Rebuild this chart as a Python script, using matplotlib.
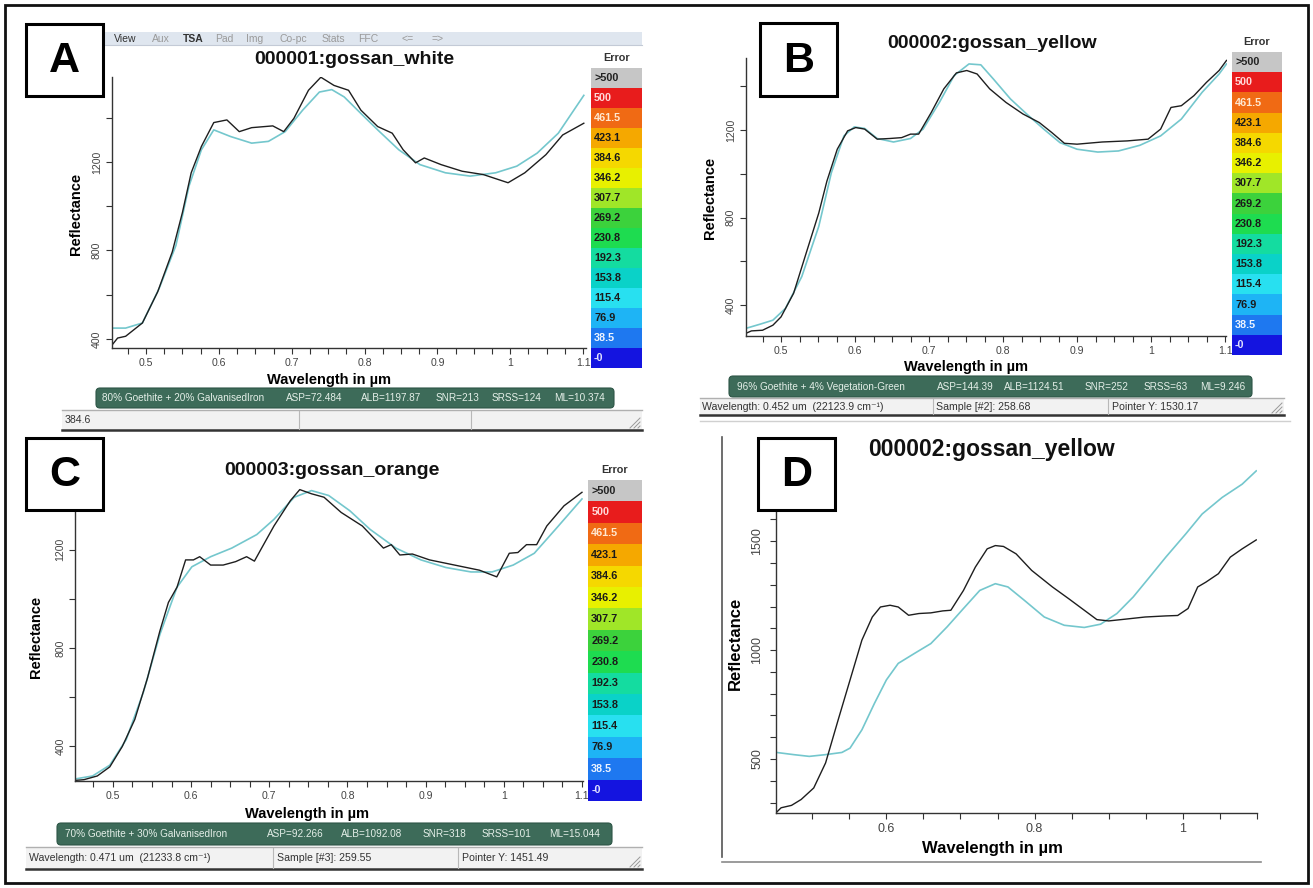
import matplotlib
matplotlib.use("Agg")
import matplotlib.pyplot as plt
import numpy as np
from matplotlib.patches import Rectangle, FancyBboxPatch
from matplotlib.ticker import MultipleLocator

plt.rcParams['font.family'] = ['Liberation Sans', 'DejaVu Sans']

W, H = 1313, 888

# ---- data ----

# A: 000001:gossan_white
a_obs_wl = [0.452, 0.461, 0.472, 0.495, 0.516, 0.536, 0.550, 0.562, 0.576, 0.593, 0.611, 0.628, 0.645, 0.674,
            0.689, 0.703, 0.723, 0.740, 0.758, 0.778, 0.795, 0.818, 0.838, 0.853, 0.870, 0.882, 0.905, 0.934,
            0.963, 0.997, 1.020, 1.049, 1.072, 1.101]
a_obs_r = [367, 404, 412, 472, 613, 793, 972, 1151, 1270, 1378, 1390, 1337, 1355, 1363,
           1337, 1397, 1524, 1583, 1546, 1524, 1434, 1360, 1330, 1255, 1196, 1218, 1188, 1158,
           1143, 1106, 1151, 1233, 1322, 1375]
a_fit_wl = [0.452, 0.472, 0.495, 0.518, 0.541, 0.559, 0.576, 0.593, 0.616, 0.645, 0.668, 0.691, 0.715, 0.738,
            0.755, 0.772, 0.795, 0.818, 0.847, 0.876, 0.911, 0.945, 0.980, 1.009, 1.037, 1.066, 1.101]
a_fit_r = [449, 449, 472, 628, 822, 1091, 1255, 1345, 1315, 1285, 1293, 1337, 1434, 1516,
           1527, 1494, 1419, 1345, 1255, 1188, 1151, 1136, 1151, 1181, 1240, 1330, 1501]

# B: 000002:gossan_yellow
b_obs_wl = [0.452, 0.460, 0.475, 0.489, 0.500, 0.517, 0.534, 0.551, 0.562, 0.576, 0.590, 0.601, 0.613, 0.630,
            0.647, 0.663, 0.675, 0.686, 0.703, 0.720, 0.737, 0.751, 0.765, 0.782, 0.804, 0.827, 0.849, 0.866,
            0.883, 0.900, 0.934, 0.968, 0.996, 1.013, 1.027, 1.041, 1.058, 1.075, 1.092, 1.102]
b_obs_r = [270, 282, 285, 308, 346, 454, 638, 821, 967, 1113, 1197, 1212, 1205, 1159,
           1162, 1166, 1182, 1182, 1281, 1389, 1462, 1473, 1457, 1389, 1327, 1274, 1235, 1189,
           1140, 1136, 1146, 1151, 1159, 1205, 1304, 1312, 1358, 1419, 1473, 1519]
b_fit_wl = [0.452, 0.472, 0.489, 0.506, 0.528, 0.551, 0.568, 0.585, 0.599, 0.613, 0.630, 0.652, 0.675, 0.692,
            0.714, 0.734, 0.754, 0.770, 0.787, 0.810, 0.832, 0.855, 0.877, 0.900, 0.928, 0.956, 0.985, 1.013,
            1.041, 1.069, 1.092, 1.102]
b_fit_r = [293, 313, 331, 385, 530, 760, 1005, 1174, 1215, 1208, 1162, 1146, 1162, 1205,
           1327, 1450, 1503, 1499, 1434, 1343, 1274, 1205, 1143, 1113, 1100, 1105, 1131, 1174,
           1251, 1373, 1457, 1503]

# C: 000003:gossan_orange
c_obs_wl = [0.452, 0.463, 0.480, 0.496, 0.512, 0.528, 0.544, 0.560, 0.571, 0.582, 0.593, 0.603, 0.611, 0.625,
            0.641, 0.657, 0.671, 0.681, 0.689, 0.706, 0.727, 0.739, 0.754, 0.770, 0.792, 0.819, 0.846, 0.856,
            0.867, 0.883, 0.905, 0.937, 0.969, 0.991, 1.007, 1.018, 1.029, 1.042, 1.055, 1.077, 1.100]
c_obs_r = [262, 265, 280, 317, 400, 510, 676, 869, 986, 1048, 1159, 1159, 1172, 1138,
           1138, 1152, 1172, 1154, 1200, 1297, 1400, 1445, 1428, 1414, 1352, 1297, 1207, 1221,
           1179, 1183, 1159, 1138, 1117, 1090, 1186, 1189, 1221, 1221, 1297, 1379, 1434]
c_fit_wl = [0.452, 0.474, 0.496, 0.517, 0.539, 0.560, 0.582, 0.601, 0.625, 0.652, 0.684, 0.706, 0.732, 0.754,
            0.776, 0.803, 0.829, 0.862, 0.894, 0.926, 0.958, 0.985, 1.012, 1.039, 1.066, 1.100]
c_fit_r = [268, 280, 324, 428, 621, 855, 1048, 1131, 1172, 1207, 1262, 1324, 1414, 1441,
           1421, 1359, 1283, 1207, 1159, 1128, 1110, 1110, 1138, 1186, 1283, 1407]

# D: 000002:gossan_yellow (different fit)
d_obs_wl = [0.452, 0.458, 0.472, 0.485, 0.502, 0.518, 0.535, 0.551, 0.567, 0.581, 0.592, 0.605, 0.616, 0.630,
            0.644, 0.660, 0.676, 0.687, 0.704, 0.720, 0.736, 0.747, 0.758, 0.775, 0.796, 0.824, 0.846, 0.867,
            0.884, 0.900, 0.922, 0.949, 0.977, 0.993, 1.007, 1.020, 1.031, 1.048, 1.064, 1.080, 1.099]
d_obs_r = [256, 276, 287, 314, 367, 482, 680, 863, 1046, 1152, 1198, 1206, 1198, 1160,
           1168, 1171, 1180, 1183, 1274, 1381, 1465, 1480, 1476, 1442, 1366, 1290, 1236, 1183,
           1140, 1134, 1142, 1152, 1157, 1159, 1191, 1290, 1312, 1351, 1427, 1465, 1506]
d_fit_wl = [0.452, 0.475, 0.496, 0.518, 0.540, 0.551, 0.567, 0.584, 0.600, 0.616, 0.638, 0.660, 0.682, 0.704,
            0.726, 0.747, 0.764, 0.786, 0.813, 0.840, 0.867, 0.889, 0.911, 0.933, 0.955, 0.977, 1.004, 1.026,
            1.053, 1.080, 1.099]
d_fit_r = [530, 520, 512, 520, 530, 550, 634, 756, 863, 939, 985, 1030, 1107, 1191,
           1274, 1305, 1290, 1229, 1152, 1114, 1104, 1119, 1168, 1244, 1335, 1427, 1534, 1625,
           1701, 1762, 1823]

# error colour scale
err_labels = [">500", "500", "461.5", "423.1", "384.6", "346.2", "307.7", "269.2",
              "230.8", "192.3", "153.8", "115.4", "76.9", "38.5", "-0"]
err_colors = ['#c6c6c6', '#e81c1c', '#f06a14', '#f5a800', '#f5d800', '#e8f000', '#a0e628', '#3cd23c',
              '#1edc50', '#14dca0', '#0ad2c8', '#28e0f0', '#1eb4f5', '#1e78f0', '#1414e0']
err_text = ['#222222', '#ffd8d8', '#ffe8d0'] + ['#1a1a1a'] * 10 + ['#eef4ff', '#e0e0ff']

toolbar_items = ["View", "Aux", "TSA", "Pad", "Img", "Co-pc", "Stats", "FFC", "<=", "=>"]

a_status = ["80% Goethite + 20% GalvanisedIron", "ASP=72.484", "ALB=1197.87", "SNR=213", "SRSS=124", "ML=10.374"]
b_status = ["96% Goethite + 4% Vegetation-Green", "ASP=144.39", "ALB=1124.51", "SNR=252", "SRSS=63", "ML=9.246"]
c_status = ["70% Goethite + 30% GalvanisedIron", "ASP=92.266", "ALB=1092.08", "SNR=318", "SRSS=101", "ML=15.044"]

b_bar = ["Wavelength: 0.452 um  (22123.9 cm\u207b\u00b9)", "Sample [#2]: 258.68", "Pointer Y: 1530.17"]
c_bar = ["Wavelength: 0.471 um  (21233.8 cm\u207b\u00b9)", "Sample [#3]: 259.55", "Pointer Y: 1451.49"]

OBS = '#1e1e1e'
FIT = '#74c7cd'
PILL = '#3d6b59'

fig = plt.figure(figsize=(W / 100, H / 100), dpi=100)

bg = fig.add_axes([0, 0, 1, 1], zorder=0)
bg.set_xlim(0, W)
bg.set_ylim(H, 0)
bg.axis('off')

top = fig.add_axes([0, 0, 1, 1], zorder=10)
top.set_xlim(0, W)
top.set_ylim(H, 0)
top.axis('off')
top.patch.set_alpha(0)


def px_axes(x0, y0, x1, y1, z=2):
    ax = fig.add_axes([x0 / W, 1 - y1 / H, (x1 - x0) / W, (y1 - y0) / H], zorder=z)
    ax.patch.set_alpha(0)
    return ax


def spectrum(box, obs_wl, obs_r, fit_wl, fit_r, xlim, ylim, xmaj, xmin, ymaj, ymin, fs, ypad):
    ax = px_axes(*box)
    ax.plot(fit_wl, fit_r, color=FIT, lw=1.2)
    ax.plot(obs_wl, obs_r, color=OBS, lw=1.0)
    ax.set_xlim(*xlim)
    ax.set_ylim(*ylim)
    for s in ['top', 'right']:
        ax.spines[s].set_visible(False)
    for s in ['left', 'bottom']:
        ax.spines[s].set_color('#333333')
        ax.spines[s].set_linewidth(1.0)
    ax.xaxis.set_major_locator(MultipleLocator(xmaj))
    ax.xaxis.set_minor_locator(MultipleLocator(xmin))
    ax.yaxis.set_major_locator(MultipleLocator(ymaj))
    ax.yaxis.set_minor_locator(MultipleLocator(ymin))
    ax.xaxis.set_major_formatter(plt.FuncFormatter(lambda v, p: ('%.1f' % v).rstrip('0').rstrip('.')))
    ax.tick_params(which='both', length=4, width=0.8, color='#333333', labelsize=fs, labelcolor='#444444')
    ax.tick_params(axis='y', pad=ypad)
    plt.setp(ax.get_yticklabels(), rotation=90, va='center')
    return ax


def colorbar(x0, y0, x1, y1):
    ax = px_axes(x0, y0, x1, y1, z=3)
    ax.barh(np.arange(len(err_labels)), 1, height=1, left=0, color=err_colors)
    for i, lab in enumerate(err_labels):
        ax.text(0.06, i, lab, color=err_text[i], fontsize=7.8, fontweight='bold', va='center', ha='left')
    ax.set_xlim(0, 1)
    ax.set_ylim(len(err_labels) - 0.5, -0.5)
    ax.axis('off')
    bg.text((x0 + x1) / 2, y0 - 10, "Error", fontsize=7.8, fontweight='bold', color='#333333', ha='center', va='center')


def pill(x0, y0, x1, y1, items, xs):
    bg.add_patch(FancyBboxPatch((x0, y0), x1 - x0, y1 - y0, boxstyle="round,pad=0,rounding_size=4",
                                fc=PILL, ec='#2d5546', lw=0.8))
    for t, x in zip(items, xs):
        bg.text(x, (y0 + y1) / 2, t, color='#e4efe8', fontsize=7.2, ha='left', va='center')


def status_bar(x0, y0, x1, y1, items, xs, divs):
    bg.add_patch(Rectangle((x0, y0), x1 - x0, y1 - y0, fc='#f2f2f2', ec='none'))
    bg.plot([x0, x1], [y0, y0], color='#b0b0b0', lw=1)
    bg.plot([x0, x1], [y1, y1], color='#333333', lw=1.8)
    for d in divs:
        bg.plot([d, d], [y0 + 1, y1 - 1], color='#b8b8b8', lw=0.8)
    for t, x in zip(items, xs):
        bg.text(x, (y0 + y1) / 2, t, color='#333333', fontsize=7.6, ha='left', va='center')
    for k in range(3):
        bg.plot([x1 - 4 - 4 * k, x1 - 2], [y1 - 2, y1 - 4 - 4 * k], color='#999999', lw=0.7)


def label_box(x0, y0, x1, y1, letter):
    top.add_patch(Rectangle((x0, y0), x1 - x0, y1 - y0, fc='white', ec='black', lw=2.2))
    top.text((x0 + x1) / 2, (y0 + y1) / 2 + 1, letter, fontsize=31, fontweight='bold', ha='center', va='center')


# outer frame
bg.add_patch(Rectangle((5, 5), 1303, 878, fc='none', ec='#111111', lw=2))

# ---- panel A ----
bg.add_patch(Rectangle((103, 32), 539, 13, fc='#dfe6ef', ec='none'))
bg.plot([103, 642], [45, 45], color='#c3cad6', lw=0.8)
tb_x = [114, 152, 183, 215, 246, 280, 322, 358, 402, 431]
for t, x in zip(toolbar_items, tb_x):
    dark = t in ("View", "TSA")
    bg.text(x, 38.5, t, fontsize=7.5, ha='left', va='center', color='#333333' if dark else '#9a9a9a',
            fontweight='bold' if t == "TSA" else 'normal')
bg.text(354, 59, "000001:gossan_white", fontsize=14, fontweight='bold', ha='center', va='center', color='#111111')
ax_a = spectrum((111.5, 77, 586, 348), a_obs_wl, a_obs_r, a_fit_wl, a_fit_r,
                (0.4526, 1.104), (359, 1584), 0.1, 0.025, 400, 200, 7.6, 3)
bg.text(329, 380, "Wavelength in \u00b5m", fontsize=10.5, fontweight='bold', ha='center', va='center')
bg.text(76, 214, "Reflectance", fontsize=10.5, fontweight='bold', ha='center', va='center', rotation=90)
colorbar(591, 68, 642, 368)
pill(96, 388, 614, 408, a_status, [102, 286, 361, 436, 492, 554])
status_bar(62, 410, 642, 430, ["384.6"], [65], [299, 471])
label_box(26, 24, 103, 96, "A")

# ---- panel B ----
bg.text(992, 43, "000002:gossan_yellow", fontsize=14, fontweight='bold', ha='center', va='center', color='#111111')
ax_b = spectrum((745.5, 58, 1226.5, 336), b_obs_wl, b_obs_r, b_fit_wl, b_fit_r,
                (0.452, 1.102), (258.68, 1530.17), 0.1, 0.025, 400, 200, 7.6, 3)
bg.text(966, 367, "Wavelength in \u00b5m", fontsize=10.5, fontweight='bold', ha='center', va='center')
bg.text(710, 198, "Reflectance", fontsize=10.5, fontweight='bold', ha='center', va='center', rotation=90)
colorbar(1232, 52, 1282, 355)
pill(729, 376, 1252, 397, b_status, [737, 937, 1004, 1085, 1144, 1200])
status_bar(700, 398, 1284, 415, b_bar, [702, 936, 1112], [933, 1108])
label_box(760, 23, 837, 96, "B")

# ---- panel C ----
bg.text(332, 470, "000003:gossan_orange", fontsize=14, fontweight='bold', ha='center', va='center', color='#111111')
ax_c = spectrum((75, 488, 583, 781), c_obs_wl, c_obs_r, c_fit_wl, c_fit_r,
                (0.4515, 1.1013), (259.55, 1451.49), 0.1, 0.025, 400, 200, 7.6, 3)
bg.text(307, 814, "Wavelength in \u00b5m", fontsize=10.5, fontweight='bold', ha='center', va='center')
bg.text(36, 637, "Reflectance", fontsize=10.5, fontweight='bold', ha='center', va='center', rotation=90)
colorbar(588, 480, 642, 801)
pill(57, 823, 612, 845, c_status, [65, 267, 341, 423, 482, 549])
status_bar(26, 847, 642, 869, c_bar, [29, 277, 462], [273, 458])
label_box(26, 438, 103, 510, "C")

# ---- panel D ----
bg.plot([700, 1290], [421, 421], color='#d0d0d0', lw=1)
bg.plot([722, 722], [437, 857], color='#555555', lw=1.2)
bg.plot([722, 1261], [862, 862], color='#8a8a8a', lw=1.2)
bg.text(868, 449, "000002:gossan_yellow", fontsize=16.5, fontweight='bold', ha='left', va='center', color='#111111')
ax_d = spectrum((776, 465, 1257, 813), d_obs_wl, d_obs_r, d_fit_wl, d_fit_r,
                (0.4511, 1.1), (252, 1850), 0.2, 0.05, 500, 100, 9, 5)
bg.text(992, 848, "Wavelength in \u00b5m", fontsize=12, fontweight='bold', ha='center', va='center')
bg.text(735, 643, "Reflectance", fontsize=12, fontweight='bold', ha='center', va='center', rotation=90)
label_box(758, 438, 835, 510, "D")

fig.savefig("out.png", dpi=100)
